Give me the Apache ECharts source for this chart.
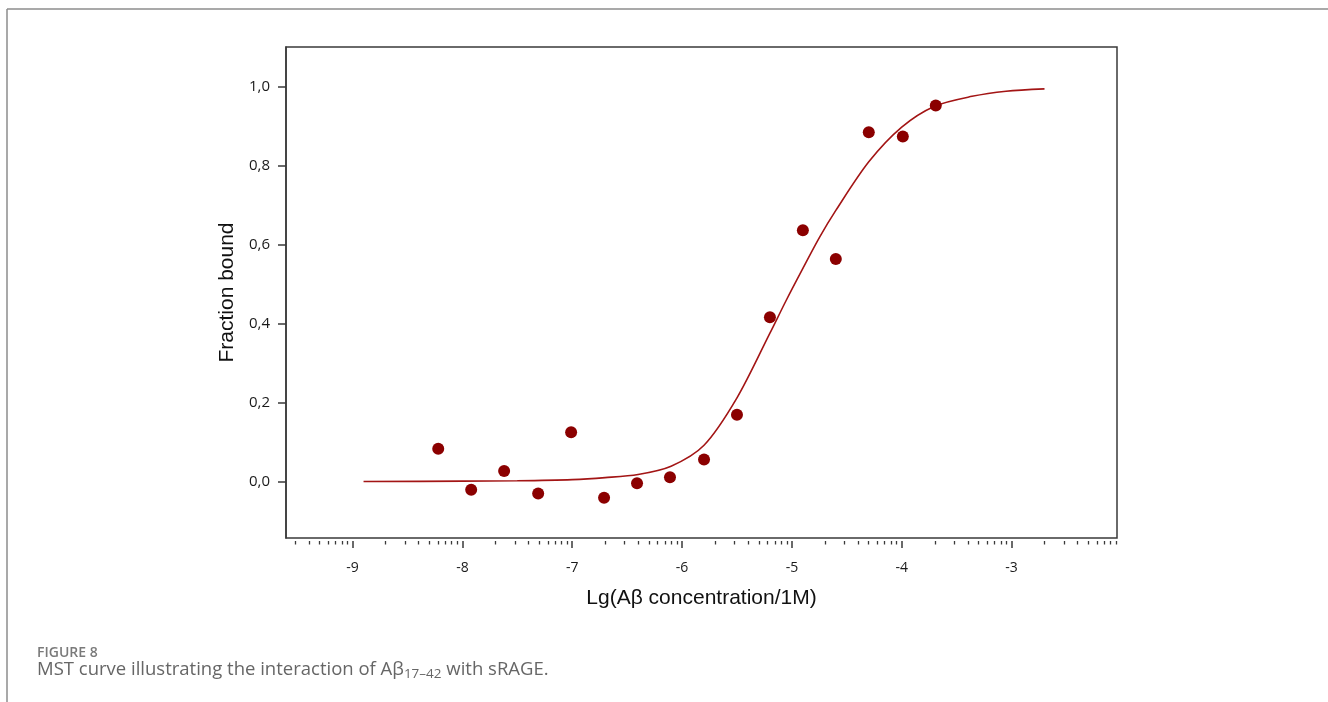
<!DOCTYPE html>
<html>
<head>
<meta charset="utf-8">
<script src="https://cdn.jsdelivr.net/npm/echarts@6/dist/echarts.min.js"></script>
<style>
  html, body { margin: 0; padding: 0; background: #fff; }
  #chart { width: 1328px; height: 702px; }
</style>
</head>
<body>
<div id="chart"></div>
<script>
// measured points (lg concentration, fraction bound)
const pointX = [-8.22, -7.92, -7.62, -7.31, -7.01, -6.71, -6.41, -6.11, -5.80, -5.50, -5.20, -4.90, -4.60, -4.30, -3.99, -3.69]
const pointY = [0.083, -0.021, 0.027, -0.030, 0.125, -0.041, -0.004, 0.011, 0.056, 0.169, 0.416, 0.637, 0.564, 0.885, 0.874, 0.953]

// fitted curve
const curveX = [-8.9, -8.0, -7.5, -7.0, -6.7, -6.4, -6.1, -5.8, -5.5, -5.2, -5.05, -4.9, -4.75, -4.6, -4.3, -4.0, -3.7, -3.36, -3.05, -2.7]
const curveY = [0.000, 0.001, 0.002, 0.005, 0.010, 0.018, 0.039, 0.092, 0.212, 0.376, 0.460, 0.540, 0.618, 0.687, 0.810, 0.898, 0.951, 0.976, 0.989, 0.995]

const xTicks = [-9, -8, -7, -6, -5, -4, -3]
const yTicks = [0, 0.2, 0.4, 0.6, 0.8, 1.0]

const xMin = -9.606
const xMax = -2.04

// log-style minor ticks inside each decade
const minorTicks = []
for (let d = -10; d <= -3; d++) {
  for (let k = 2; k <= 9; k++) {
    const v = d + Math.log10(k)
    if (v > xMin && v < xMax) minorTicks.push(v)
  }
}

const myChart = echarts.init(document.getElementById('chart'))

myChart.setOption({
  animation: false,
  title: [
    {
      text: 'FIGURE 8',
      left: 32,
      top: 641,
      textStyle: { fontFamily: 'Open Sans', fontSize: 14, fontWeight: 600, color: '#7a7a7a' }
    },
    {
      text: '{n|MST curve illustrating the interaction of Aβ}{s|17–42}{n| with sRAGE.}',
      left: 32,
      top: 653,
      textStyle: {
        fontWeight: 'normal',
        rich: {
          n: { fontFamily: 'Open Sans', fontSize: 18.5, fontWeight: 'normal', color: '#666', lineHeight: 24 },
          s: { fontFamily: 'Open Sans', fontSize: 13.5, fontWeight: 'normal', color: '#666', padding: [9, 0, 0, 0] }
        }
      }
    }
  ],
  graphic: [
    { type: 'line', shape: { x1: 7, y1: 9, x2: 1328, y2: 9 }, style: { stroke: '#8c8c8c', lineWidth: 1.5 } },
    { type: 'line', shape: { x1: 7, y1: 9, x2: 7, y2: 702 }, style: { stroke: '#8c8c8c', lineWidth: 1.5 } }
  ],
  grid: {
    left: 286,
    right: 211,
    top: 47,
    bottom: 164,
    show: true,
    borderColor: '#3a3a3a',
    borderWidth: 1.5,
    backgroundColor: 'transparent'
  },
  xAxis: [
    {
      type: 'value',
      min: xMin,
      max: xMax,
      position: 'bottom',
      offset: 3,
      name: 'Lg(Aβ concentration/1M)',
      nameLocation: 'middle',
      nameGap: 47,
      nameTextStyle: { fontFamily: 'Liberation Sans', fontSize: 21, color: '#111' },
      axisLine: { show: false, onZero: false },
      splitLine: { show: false },
      axisTick: { show: true, length: 7, customValues: xTicks, lineStyle: { color: '#3a3a3a', width: 1.5 } },
      axisLabel: {
        customValues: xTicks,
        margin: 20,
        fontFamily: 'Open Sans',
        fontSize: 14,
        color: '#1a1a1a'
      }
    },
    {
      type: 'value',
      min: xMin,
      max: xMax,
      position: 'bottom',
      offset: 3,
      axisLine: { show: false, onZero: false },
      splitLine: { show: false },
      axisLabel: { show: false },
      axisTick: { show: true, length: 3.5, customValues: minorTicks, lineStyle: { color: '#3a3a3a', width: 1.3 } }
    }
  ],
  yAxis: {
    type: 'value',
    min: -0.143,
    max: 1.101,
    name: 'Fraction bound',
    nameLocation: 'middle',
    nameRotate: 90,
    nameGap: 46,
    nameTextStyle: { fontFamily: 'Liberation Sans', fontSize: 21, color: '#111' },
    axisLine: { show: true, onZero: false, lineStyle: { color: '#3a3a3a', width: 1.5 } },
    splitLine: { show: false },
    axisTick: { show: true, length: 8, customValues: yTicks, lineStyle: { color: '#3a3a3a', width: 1.5 } },
    axisLabel: {
      customValues: yTicks,
      margin: 16,
      fontFamily: 'Open Sans',
      fontSize: 15,
      color: '#1a1a1a',
      formatter: (v) => v.toFixed(1).replace('.', ',')
    }
  },
  series: [
    {
      name: 'fit',
      type: 'line',
      data: curveX.map((x, i) => [x, curveY[i]]),
      smooth: 0.3,
      showSymbol: false,
      lineStyle: { color: '#a31515', width: 1.6 },
      z: 2
    },
    {
      name: 'data',
      type: 'scatter',
      data: pointX.map((x, i) => [x, pointY[i]]),
      symbolSize: 12,
      itemStyle: { color: '#8b0000', opacity: 1 },
      z: 3
    }
  ]
})

window.addEventListener('resize', () => myChart.resize())
</script>
</body>
</html>
